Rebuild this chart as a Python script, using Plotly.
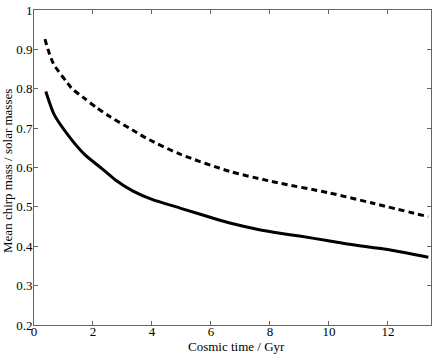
import plotly.graph_objs as go

# cosmic time (Gyr) and mean chirp mass (solar masses)
solid_t = [0.40, 0.68, 1.22, 1.73, 2.29, 2.75, 3.36, 4.0, 4.95, 6.3, 6.64, 7.64,
           8.34, 9.0, 9.98, 10.69, 12.04, 13.37]
solid_m = [0.793, 0.735, 0.676, 0.632, 0.598, 0.569, 0.540, 0.519, 0.497, 0.466,
           0.459, 0.442, 0.433, 0.426, 0.414, 0.405, 0.391, 0.372]

dashed_t = [0.37, 0.65, 1.1, 1.28, 1.67, 2.12, 2.58, 3.48, 3.82, 4.95, 6.64, 7.86,
            8.34, 9.98, 11.5, 13.37]
dashed_m = [0.926, 0.865, 0.818, 0.801, 0.778, 0.752, 0.729, 0.689, 0.674, 0.634,
            0.590, 0.568, 0.560, 0.536, 0.509, 0.475]

x_ticks = [0, 2, 4, 6, 8, 10, 12]
y_ticks = [0.2, 0.3, 0.4, 0.5, 0.6, 0.7, 0.8, 0.9, 1.0]
y_labels = ["0.2", "0.3", "0.4", "0.5", "0.6", "0.7", "0.8", "0.9", "1"]

serif = "Liberation Serif, Times New Roman, serif"

fig = go.Figure()

fig.add_trace(go.Scatter(
    x=dashed_t, y=dashed_m, mode="lines",
    line=dict(color="black", width=3, dash="6px,4px", shape="spline", smoothing=0.8),
    showlegend=False,
))
fig.add_trace(go.Scatter(
    x=solid_t, y=solid_m, mode="lines",
    line=dict(color="black", width=3, shape="spline", smoothing=0.6),
    showlegend=False,
))

axis_style = dict(
    showline=True, linecolor="#666", linewidth=1, mirror="ticks",
    ticks="inside", ticklen=4, tickcolor="#666",
    showgrid=False, zeroline=False, automargin=False,
    tickfont=dict(family=serif, size=13, color="black"),
)

fig.update_xaxes(range=[0, 13.46], tickvals=x_ticks, ticklabelstandoff=-6, **axis_style)
fig.update_yaxes(range=[0.2, 1.0], tickvals=y_ticks, ticktext=y_labels,
                 ticklabelstandoff=-2, **axis_style)

# axis titles placed as annotations so the plot area stays where it is
fig.add_annotation(text="Cosmic time / Gyr", xref="paper", yref="paper",
                   x=0.509, y=-0.094, xanchor="center", yanchor="bottom", showarrow=False,
                   borderpad=0, font=dict(family=serif, size=13, color="black"))
fig.add_annotation(text="Mean chirp mass / solar masses", xref="paper", yref="paper",
                   x=-0.0655, y=0.489, xanchor="center", yanchor="middle", textangle=-90,
                   showarrow=False, font=dict(family=serif, size=13, color="black"))

fig.update_layout(
    width=436, height=355,
    margin=dict(l=34, r=5, t=10, b=30),
    plot_bgcolor="white", paper_bgcolor="white",
)

# drop the browser's default page margin so the figure sits at the window corner
fig.write_html("out.html", config={"displayModeBar": False},
               post_script="document.body.style.margin='0';")
